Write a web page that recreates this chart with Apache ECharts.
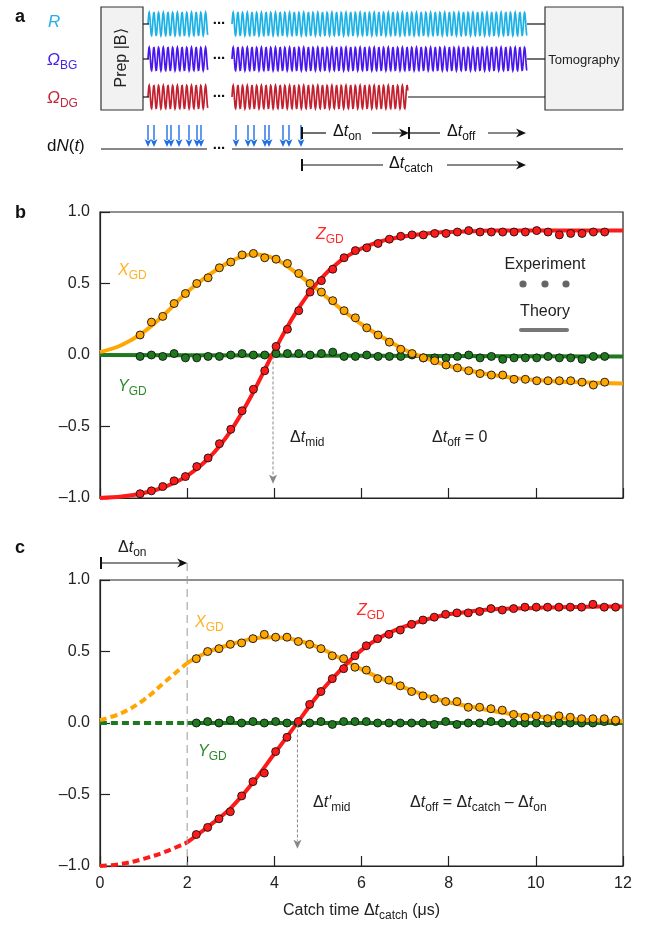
<!DOCTYPE html>
<html lang="en">
<head>
<meta charset="UTF-8">
<title>Catch time</title>
<style>
  html, body { margin: 0; padding: 0; background: #fff; }
  #chart { width: 646px; height: 926px; }
</style>
</head>
<body>
<div id="chart"></div>
<script src="https://cdn.jsdelivr.net/npm/echarts@6/dist/echarts.min.js"></script>
<script>
// ---- panel b (dt_off = 0) ----
var tB = [0.92, 1.18, 1.44, 1.70, 1.96, 2.22, 2.48, 2.74, 3.00, 3.26, 3.52, 3.78, 4.04, 4.30,
          4.56, 4.82, 5.08, 5.34, 5.60, 5.86, 6.12, 6.38, 6.64, 6.90, 7.16, 7.42, 7.68, 7.94,
          8.20, 8.46, 8.72, 8.98, 9.24, 9.50, 9.76, 10.02, 10.28, 10.54, 10.80, 11.06, 11.32, 11.58];
var zB = [-0.97, -0.95, -0.92, -0.88, -0.85, -0.78, -0.72, -0.62, -0.52, -0.39,
          -0.24, -0.11, 0.06, 0.18, 0.31, 0.44, 0.52, 0.60, 0.68, 0.73,
          0.75, 0.78, 0.81, 0.83, 0.84, 0.84, 0.85, 0.85, 0.86, 0.87,
          0.86, 0.86, 0.86, 0.86, 0.86, 0.87, 0.86, 0.84, 0.85, 0.85, 0.86, 0.86];
var xB = [0.14, 0.23, 0.27, 0.36, 0.43, 0.50, 0.54, 0.61, 0.65, 0.70,
          0.71, 0.68, 0.67, 0.64, 0.57, 0.50, 0.44, 0.38, 0.31, 0.26,
          0.19, 0.14, 0.09, 0.04, 0.01, -0.02, -0.04, -0.07, -0.09, -0.11,
          -0.13, -0.14, -0.14, -0.17, -0.17, -0.18, -0.18, -0.18, -0.18, -0.19, -0.21, -0.19];
var yB = [-0.01, 0, -0.01, 0.01, -0.02, -0.02, -0.01, -0.01, 0, 0.01,
          0, 0, 0.01, 0.01, 0.01, 0, 0.01, 0.02, -0.01, -0.01,
          0, -0.01, -0.01, -0.01, 0, -0.02, -0.02, -0.02, -0.01, 0,
          -0.02, -0.01, -0.03, -0.02, -0.02, -0.02, -0.01, -0.02, -0.02, -0.03, -0.01, -0.01];

// theory curves, sampled every 0.5 us
var tTh = [0, 0.5, 1, 1.5, 2, 2.5, 3, 3.5, 4, 4.5, 5, 5.5, 6, 6.5, 7, 7.5, 8, 8.5, 9, 9.5, 10, 10.5, 11, 11.5, 12];
var zThB = [-1.0, -0.99, -0.965, -0.92, -0.845, -0.72, -0.53, -0.27, 0.03, 0.30, 0.51, 0.655, 0.745,
            0.80, 0.83, 0.85, 0.86, 0.865, 0.87, 0.87, 0.87, 0.87, 0.87, 0.87, 0.87];
var xThB = [0.02, 0.07, 0.16, 0.29, 0.44, 0.56, 0.655, 0.705, 0.675, 0.575, 0.455, 0.33, 0.215,
            0.12, 0.035, -0.025, -0.075, -0.11, -0.14, -0.16, -0.175, -0.185, -0.19, -0.195, -0.2];
var yThT = [0, 12];
var yThB = [0, -0.01];

// ---- panel c (dt_off = dt_catch - dt_on) ----
var tC = [2.21, 2.47, 2.73, 2.99, 3.25, 3.51, 3.77, 4.03, 4.29, 4.55, 4.81, 5.07, 5.33, 5.59,
          5.85, 6.11, 6.37, 6.63, 6.89, 7.15, 7.41, 7.67, 7.93, 8.19, 8.45, 8.71, 8.97, 9.23,
          9.49, 9.75, 10.01, 10.27, 10.53, 10.79, 11.05, 11.31, 11.57, 11.83];
var zC = [-0.78, -0.73, -0.67, -0.62, -0.51, -0.41, -0.35, -0.20, -0.10, 0.01,
          0.13, 0.22, 0.31, 0.38, 0.47, 0.54, 0.59, 0.62, 0.65, 0.69,
          0.72, 0.74, 0.76, 0.77, 0.77, 0.78, 0.80, 0.79, 0.80, 0.81,
          0.81, 0.81, 0.81, 0.81, 0.81, 0.83, 0.81, 0.81];
var xC = [0.45, 0.50, 0.52, 0.55, 0.56, 0.59, 0.62, 0.60, 0.60, 0.57,
          0.55, 0.52, 0.47, 0.45, 0.39, 0.37, 0.31, 0.30, 0.26, 0.22,
          0.19, 0.17, 0.15, 0.15, 0.11, 0.11, 0.10, 0.09, 0.06, 0.04,
          0.05, 0.03, 0.05, 0.04, 0.03, 0.03, 0.03, 0.02];
var yC = [0, 0.01, 0, 0.02, 0, 0.01, 0, 0.01, 0, 0,
          0, 0.01, -0.01, 0.01, 0.01, 0.01, 0, 0, 0, 0,
          0, -0.01, 0.01, -0.01, 0, 0, 0.01, 0, 0, 0,
          0, 0, 0, 0, 0, 0, 0.01, 0.01];
var zThC = [-1.0, -0.985, -0.95, -0.9, -0.835, -0.72, -0.595, -0.42, -0.215, -0.01, 0.195, 0.365, 0.51,
            0.61, 0.675, 0.725, 0.76, 0.78, 0.795, 0.80, 0.805, 0.81, 0.812, 0.815, 0.815];
var xThC = [0.02, 0.07, 0.16, 0.29, 0.42, 0.50, 0.55, 0.59, 0.60, 0.58, 0.53, 0.455, 0.375,
            0.305, 0.245, 0.19, 0.145, 0.115, 0.085, 0.06, 0.045, 0.035, 0.025, 0.018, 0.012];
var yThC = [0, 0];
var tOn = 2;      // end of the dashed part in c
var tMidB = 3.97; // Z crossing, panel b
var tMidC = 4.53; // Z crossing, panel c

// photon click arrows in the sequence sketch (pixel x)
var clicks = [148, 154, 167, 171, 179, 189, 197, 201, 236, 248, 254, 265, 269, 283, 289, 301];

var FONT = '"Liberation Sans", Arial, Helvetica, sans-serif';
var RED = '#ff1a1a', ORANGE = '#ffa600', GREEN = '#1f7a1f';

function pairs(t, v) {
    return t.map(function(x, i) { return [x, v[i]]; });
}

function theory(g, t, v, color, dashed) {
    return {
        type: 'line', xAxisIndex: g, yAxisIndex: g, data: pairs(t, v),
        smooth: 0.35, symbol: 'none', clip: false, silent: true, z: 2,
        lineStyle: { color: color, width: 4, type: dashed ? [7, 4] : 'solid' }
    };
}

function dots(g, t, v, color) {
    return {
        type: 'scatter', xAxisIndex: g, yAxisIndex: g, data: pairs(t, v),
        symbol: 'circle', symbolSize: 8, z: 3,
        itemStyle: { color: color, borderColor: '#111', borderWidth: 0.9, opacity: 1 }
    };
}

var axisLine = { show: true, onZero: false, lineStyle: { color: '#222', width: 1.2 } };
var axisTick = { show: true, inside: true, length: 10, lineStyle: { color: '#222', width: 1.2 } };

function yAxisFor(g) {
    return {
        gridIndex: g, type: 'value', min: -1, max: 1, interval: 0.5,
        axisLine: axisLine, axisTick: axisTick,
        splitLine: { show: false },
        axisLabel: {
            fontSize: 16, color: '#222', fontFamily: FONT, margin: 10,
            formatter: function(v) { return v < 0 ? '\u2013' + Math.abs(v).toFixed(1) : v.toFixed(1); }
        }
    };
}

var chart = echarts.init(document.getElementById('chart'));

var option = {
    animation: false,
    textStyle: { fontFamily: FONT },
    grid: [
        { left: 100, top: 212, width: 523, height: 286, show: true, borderColor: '#222', borderWidth: 1.2, backgroundColor: 'transparent', outerBoundsMode: 'none' },
        { left: 100, top: 580, width: 523, height: 286, show: true, borderColor: '#222', borderWidth: 1.2, backgroundColor: 'transparent', outerBoundsMode: 'none' }
    ],
    xAxis: [{
        gridIndex: 0, type: 'value', min: 0, max: 12, interval: 2,
        axisLine: axisLine, axisTick: axisTick,
        axisLabel: { show: false },
        splitLine: { show: false }
    }, {
        gridIndex: 1, type: 'value', min: 0, max: 12, interval: 2,
        axisLine: axisLine, axisTick: axisTick,
        axisLabel: { fontSize: 16, color: '#222', fontFamily: FONT, margin: 10 },
        splitLine: { show: false },
        name: '{r|Catch time \u0394}{i|t}{s|catch}{r| (\u03bcs)}',
        nameLocation: 'middle', nameGap: 37,
        nameTextStyle: {
            rich: {
                r: { fontSize: 16, color: '#222', fontFamily: FONT, verticalAlign: 'bottom', padding: [0, 0, 3, 0] },
                i: { fontSize: 16, color: '#222', fontFamily: FONT, fontStyle: 'italic', verticalAlign: 'bottom', padding: [0, 0, 3, 0] },
                s: { fontSize: 12, color: '#222', fontFamily: FONT, verticalAlign: 'bottom' }
            }
        }
    }],
    yAxis: [yAxisFor(0), yAxisFor(1)],
    series: [
        theory(0, yThT, yThB, GREEN),
        theory(0, tTh, xThB, ORANGE),
        theory(0, tTh, zThB, RED),
        dots(0, tB, yB, GREEN),
        dots(0, tB, xB, ORANGE),
        dots(0, tB, zB, RED),

        theory(1, [0, tOn], yThC, GREEN, true),
        theory(1, [tOn, 12], yThC, GREEN),
        theory(1, tTh.slice(0, 5), xThC.slice(0, 5), ORANGE, true),
        theory(1, tTh.slice(4), xThC.slice(4), ORANGE),
        theory(1, tTh.slice(0, 5), zThC.slice(0, 5), RED, true),
        theory(1, tTh.slice(4), zThC.slice(4), RED),
        dots(1, tC, yC, GREEN),
        dots(1, tC, xC, ORANGE),
        dots(1, tC, zC, RED)
    ]
};
chart.setOption(option);

// ---------- drawing helpers for the sketch and annotations ----------
function rich(color, size) {
    return {
        r: { fill: color, fontSize: size, fontFamily: FONT, verticalAlign: 'bottom', padding: [0, 0, 3, 0] },
        i: { fill: color, fontSize: size, fontFamily: FONT, fontStyle: 'italic', verticalAlign: 'bottom', padding: [0, 0, 3, 0] },
        s: { fill: color, fontSize: Math.round(size * 0.72), fontFamily: FONT, verticalAlign: 'bottom' }
    };
}
function txt(x, y, text, color, size, align) {
    return {
        type: 'text', x: x, y: y, z: 20,
        style: { text: text, rich: rich(color, size), fill: color, fontSize: size, fontFamily: FONT,
                 align: align || 'left', verticalAlign: 'middle' }
    };
}
function plain(x, y, text, opts) {
    var st = { text: text, fill: '#222', fontSize: 16, fontFamily: FONT, align: 'center', verticalAlign: 'middle' };
    for (var k in opts) st[k] = opts[k];
    return { type: 'text', x: x, y: y, z: 20, style: st };
}
function seg(x1, y1, x2, y2, color, w, dash) {
    return { type: 'line', z: 15, shape: { x1: x1, y1: y1, x2: x2, y2: y2 },
             style: { stroke: color, lineWidth: w, lineDash: dash || null } };
}
function headRight(x, y, color) {
    return { type: 'polygon', z: 16, shape: { points: [[x, y], [x - 10, y - 4.5], [x - 7, y], [x - 10, y + 4.5]] },
             style: { fill: color } };
}
function headDown(x, y, color, s) {
    s = s || 1;
    return { type: 'polygon', z: 16, shape: { points: [[x, y], [x - 4 * s, y - 9 * s], [x, y - 7 * s], [x + 4 * s, y - 9 * s]] },
             style: { fill: color } };
}
function wave(x0, x1, cy, color) {
    var pts = [];
    for (var x = x0; x <= x1; x += 0.3) {
        pts.push([x, cy - 11.5 * Math.sin((x - x0) / 4.7 * 2 * Math.PI)]);
    }
    return { type: 'polyline', z: 12, shape: { points: pts }, style: { stroke: color, lineWidth: 1.7, fill: null } };
}

var g = [];
// panel letters
g.push(plain(15, 17, 'a', { fontWeight: 'bold', fontSize: 18, align: 'left', fill: '#111' }));
g.push(plain(15, 213, 'b', { fontWeight: 'bold', fontSize: 18, align: 'left', fill: '#111' }));
g.push(plain(15, 548, 'c', { fontWeight: 'bold', fontSize: 18, align: 'left', fill: '#111' }));

// ---- panel a: pulse sequence ----
var rows = [
    { y: 24, color: '#1cb2e6', end: 527 },
    { y: 59, color: '#4a16ee', end: 527 },
    { y: 97, color: '#c3202f', end: 408 }
];
rows.forEach(function(r) {
    g.push(seg(143, r.y, 149, r.y, '#111', 1.2));
    g.push(wave(148, 208, r.y, r.color));
    g.push(wave(232, r.end, r.y, r.color));
    g.push(seg(r.end, r.y, 545, r.y, '#111', 1.2));
    g.push(plain(219, r.y - 4, '...', { fontSize: 15, fontWeight: 'bold', fill: '#111' }));
});
g.push({ type: 'rect', z: 14, shape: { x: 101, y: 7, width: 42, height: 103 },
         style: { fill: '#f1f2f1', stroke: '#333', lineWidth: 1.2 } });
g.push({ type: 'text', z: 20, x: 122, y: 58, rotation: Math.PI / 2,
         style: { text: 'Prep |B\u27e9', fill: '#222', fontSize: 16, fontFamily: FONT, align: 'center', verticalAlign: 'middle' } });
g.push({ type: 'rect', z: 14, shape: { x: 545, y: 7, width: 78, height: 103 },
         style: { fill: '#f1f2f1', stroke: '#333', lineWidth: 1.2 } });
g.push(plain(584, 60, 'Tomography', { fontSize: 13 }));

g.push(txt(48, 24, '{i|R}', '#27b0e6', 17));
g.push(txt(47, 62, '{i|\u03a9}{s|BG}', '#4a22e8', 17));
g.push(txt(47, 100, '{i|\u03a9}{s|DG}', '#c3263a', 17));
g.push(txt(47, 148, '{r|d}{i|N}{r|(}{i|t}{r|)}', '#111', 17));

// dN(t) line with photon clicks
g.push(seg(101, 149, 207, 149, '#111', 1.2));
g.push(seg(232, 149, 623, 149, '#111', 1.2));
g.push(plain(219, 145, '...', { fontSize: 15, fontWeight: 'bold', fill: '#111' }));
clicks.forEach(function(x) {
    g.push(seg(x, 125, x, 140, '#1f6fe6', 1.4));
    g.push(headDown(x, 147, '#1f6fe6', 0.85));
});

// on/off/catch intervals
g.push(seg(302, 127, 302, 139, '#111', 2));
g.push(seg(302, 133, 326, 133, '#111', 1.2));
g.push(txt(333, 133, '{r|\u0394}{i|t}{s|on}', '#111', 16));
g.push(seg(372, 133, 404, 133, '#111', 1.2));
g.push(headRight(409, 133, '#111'));
g.push(seg(409, 127, 409, 139, '#111', 2));
g.push(seg(409, 133, 440, 133, '#111', 1.2));
g.push(txt(447, 133, '{r|\u0394}{i|t}{s|off}', '#111', 16));
g.push(seg(488, 133, 521, 133, '#111', 1.2));
g.push(headRight(526, 133, '#111'));
g.push(seg(302, 159, 302, 171, '#111', 2));
g.push(seg(302, 165, 383, 165, '#111', 1.2));
g.push(txt(389, 165, '{r|\u0394}{i|t}{s|catch}', '#111', 16));
g.push(seg(447, 165, 521, 165, '#111', 1.2));
g.push(headRight(526, 165, '#111'));

// ---- panel b annotations ----
g.push(txt(118, 272, '{i|X}{s|GD}', '#ffb020', 16));
g.push(txt(118, 388, '{i|Y}{s|GD}', '#2a8a2a', 16));
g.push(txt(316, 236, '{i|Z}{s|GD}', '#ff2a2a', 16));
g.push(plain(545, 265, 'Experiment', {}));
[523, 545, 566].forEach(function(x) {
    g.push({ type: 'circle', z: 16, shape: { cx: x, cy: 284, r: 3.6 }, style: { fill: '#666' } });
});
g.push(plain(545, 312, 'Theory', {}));
g.push({ type: 'line', z: 15, shape: { x1: 521, y1: 330, x2: 567, y2: 330 },
         style: { stroke: '#777', lineWidth: 4, lineCap: 'round' } });
g.push(txt(290, 439, '{r|\u0394}{i|t}{s|mid}', '#222', 16));
g.push(txt(432, 439, '{r|\u0394}{i|t}{s|off}{r| = 0}', '#222', 16));
var pb0 = chart.convertToPixel({ gridIndex: 0 }, [tMidB, -0.01]);
var pb1 = chart.convertToPixel({ gridIndex: 0 }, [tMidB, -0.9]);
g.push(seg(pb0[0], pb0[1], pb0[0], pb1[1] - 8, '#888', 1, [3, 2]));
g.push(headDown(pb0[0], pb1[1], '#888', 1));

// ---- panel c annotations ----
var pOnTop = chart.convertToPixel({ gridIndex: 1 }, [tOn, -1]);
var p0 = chart.convertToPixel({ gridIndex: 1 }, [0, 1]);
g.push(seg(pOnTop[0], 563, pOnTop[0], pOnTop[1], '#999', 1, [8, 5]));
g.push(seg(p0[0] + 1, 557, p0[0] + 1, 569, '#111', 2));
g.push(seg(p0[0] + 1, 563, pOnTop[0] - 6, 563, '#111', 1.2));
g.push(headRight(pOnTop[0], 563, '#111'));
g.push(txt(118, 549, '{r|\u0394}{i|t}{s|on}', '#222', 16));
g.push(txt(195, 624, '{i|X}{s|GD}', '#ffb020', 16));
g.push(txt(198, 753, '{i|Y}{s|GD}', '#2a8a2a', 16));
g.push(txt(357, 612, '{i|Z}{s|GD}', '#ff2a2a', 16));
g.push(txt(313, 804, '{r|\u0394}{i|t\u2032}{s|mid}', '#222', 16));
g.push(txt(410, 804, '{r|\u0394}{i|t}{s|off}{r| = \u0394}{i|t}{s|catch}{r| \u2013 \u0394}{i|t}{s|on}', '#222', 16));
var pc0 = chart.convertToPixel({ gridIndex: 1 }, [tMidC, -0.01]);
var pc1 = chart.convertToPixel({ gridIndex: 1 }, [tMidC, -0.88]);
g.push(seg(pc0[0], pc0[1], pc0[0], pc1[1] - 8, '#888', 1, [3, 2]));
g.push(headDown(pc0[0], pc1[1], '#888', 1));

chart.setOption({ graphic: g });
</script>
</body>
</html>
